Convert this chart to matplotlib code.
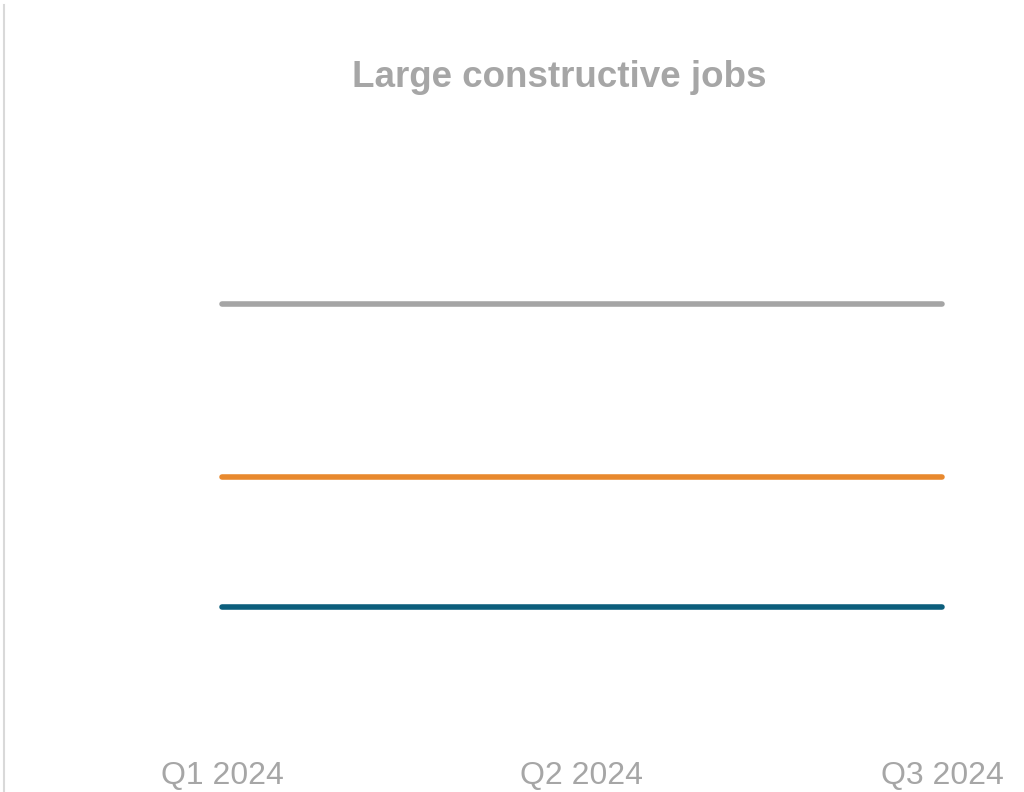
import matplotlib
matplotlib.use("Agg")
import matplotlib.pyplot as plt
from matplotlib.lines import Line2D

# Quarterly values for the three series (flat across the period)
quarters = ["Q1 2024", "Q2 2024", "Q3 2024"]
series_grey = [3.0, 3.0, 3.0]
series_orange = [2.0, 2.0, 2.0]
series_blue = [1.25, 1.25, 1.25]

plt.rcParams["font.family"] = ["Liberation Sans", "DejaVu Sans"]

fig = plt.figure(figsize=(10.24, 7.92), dpi=100)
ax = fig.add_axes([222 / 1024, 55.5 / 792, 720 / 1024, 519 / 792])

x = range(len(quarters))
for vals, col in [(series_grey, "#A5A5A5"), (series_orange, "#E8892E"), (series_blue, "#0C5E7C")]:
    ax.plot(x, vals, color=col, linewidth=4, solid_capstyle="round", clip_on=False)

ax.set_xlim(0, 2)
ax.set_ylim(0.5, 3.5)
ax.set_xticks(list(x))
ax.set_xticklabels(quarters, fontsize=23, color="#A6A6A6")
ax.tick_params(axis="x", length=0, pad=18)
ax.set_yticks([])
for sp in ax.spines.values():
    sp.set_visible(False)

fig.text(559.5 / 1024, (792 - 87) / 792, "Large constructive jobs", ha="center", va="baseline",
         fontsize=26.5, fontweight="bold", color="#A6A6A6")

# thin frame edge on the left
fig.add_artist(Line2D([4 / 1024, 4 / 1024], [0, (792 - 5) / 792], color="#D9D9D9", linewidth=1.5))

fig.savefig("out.png", dpi=100, facecolor="white")
